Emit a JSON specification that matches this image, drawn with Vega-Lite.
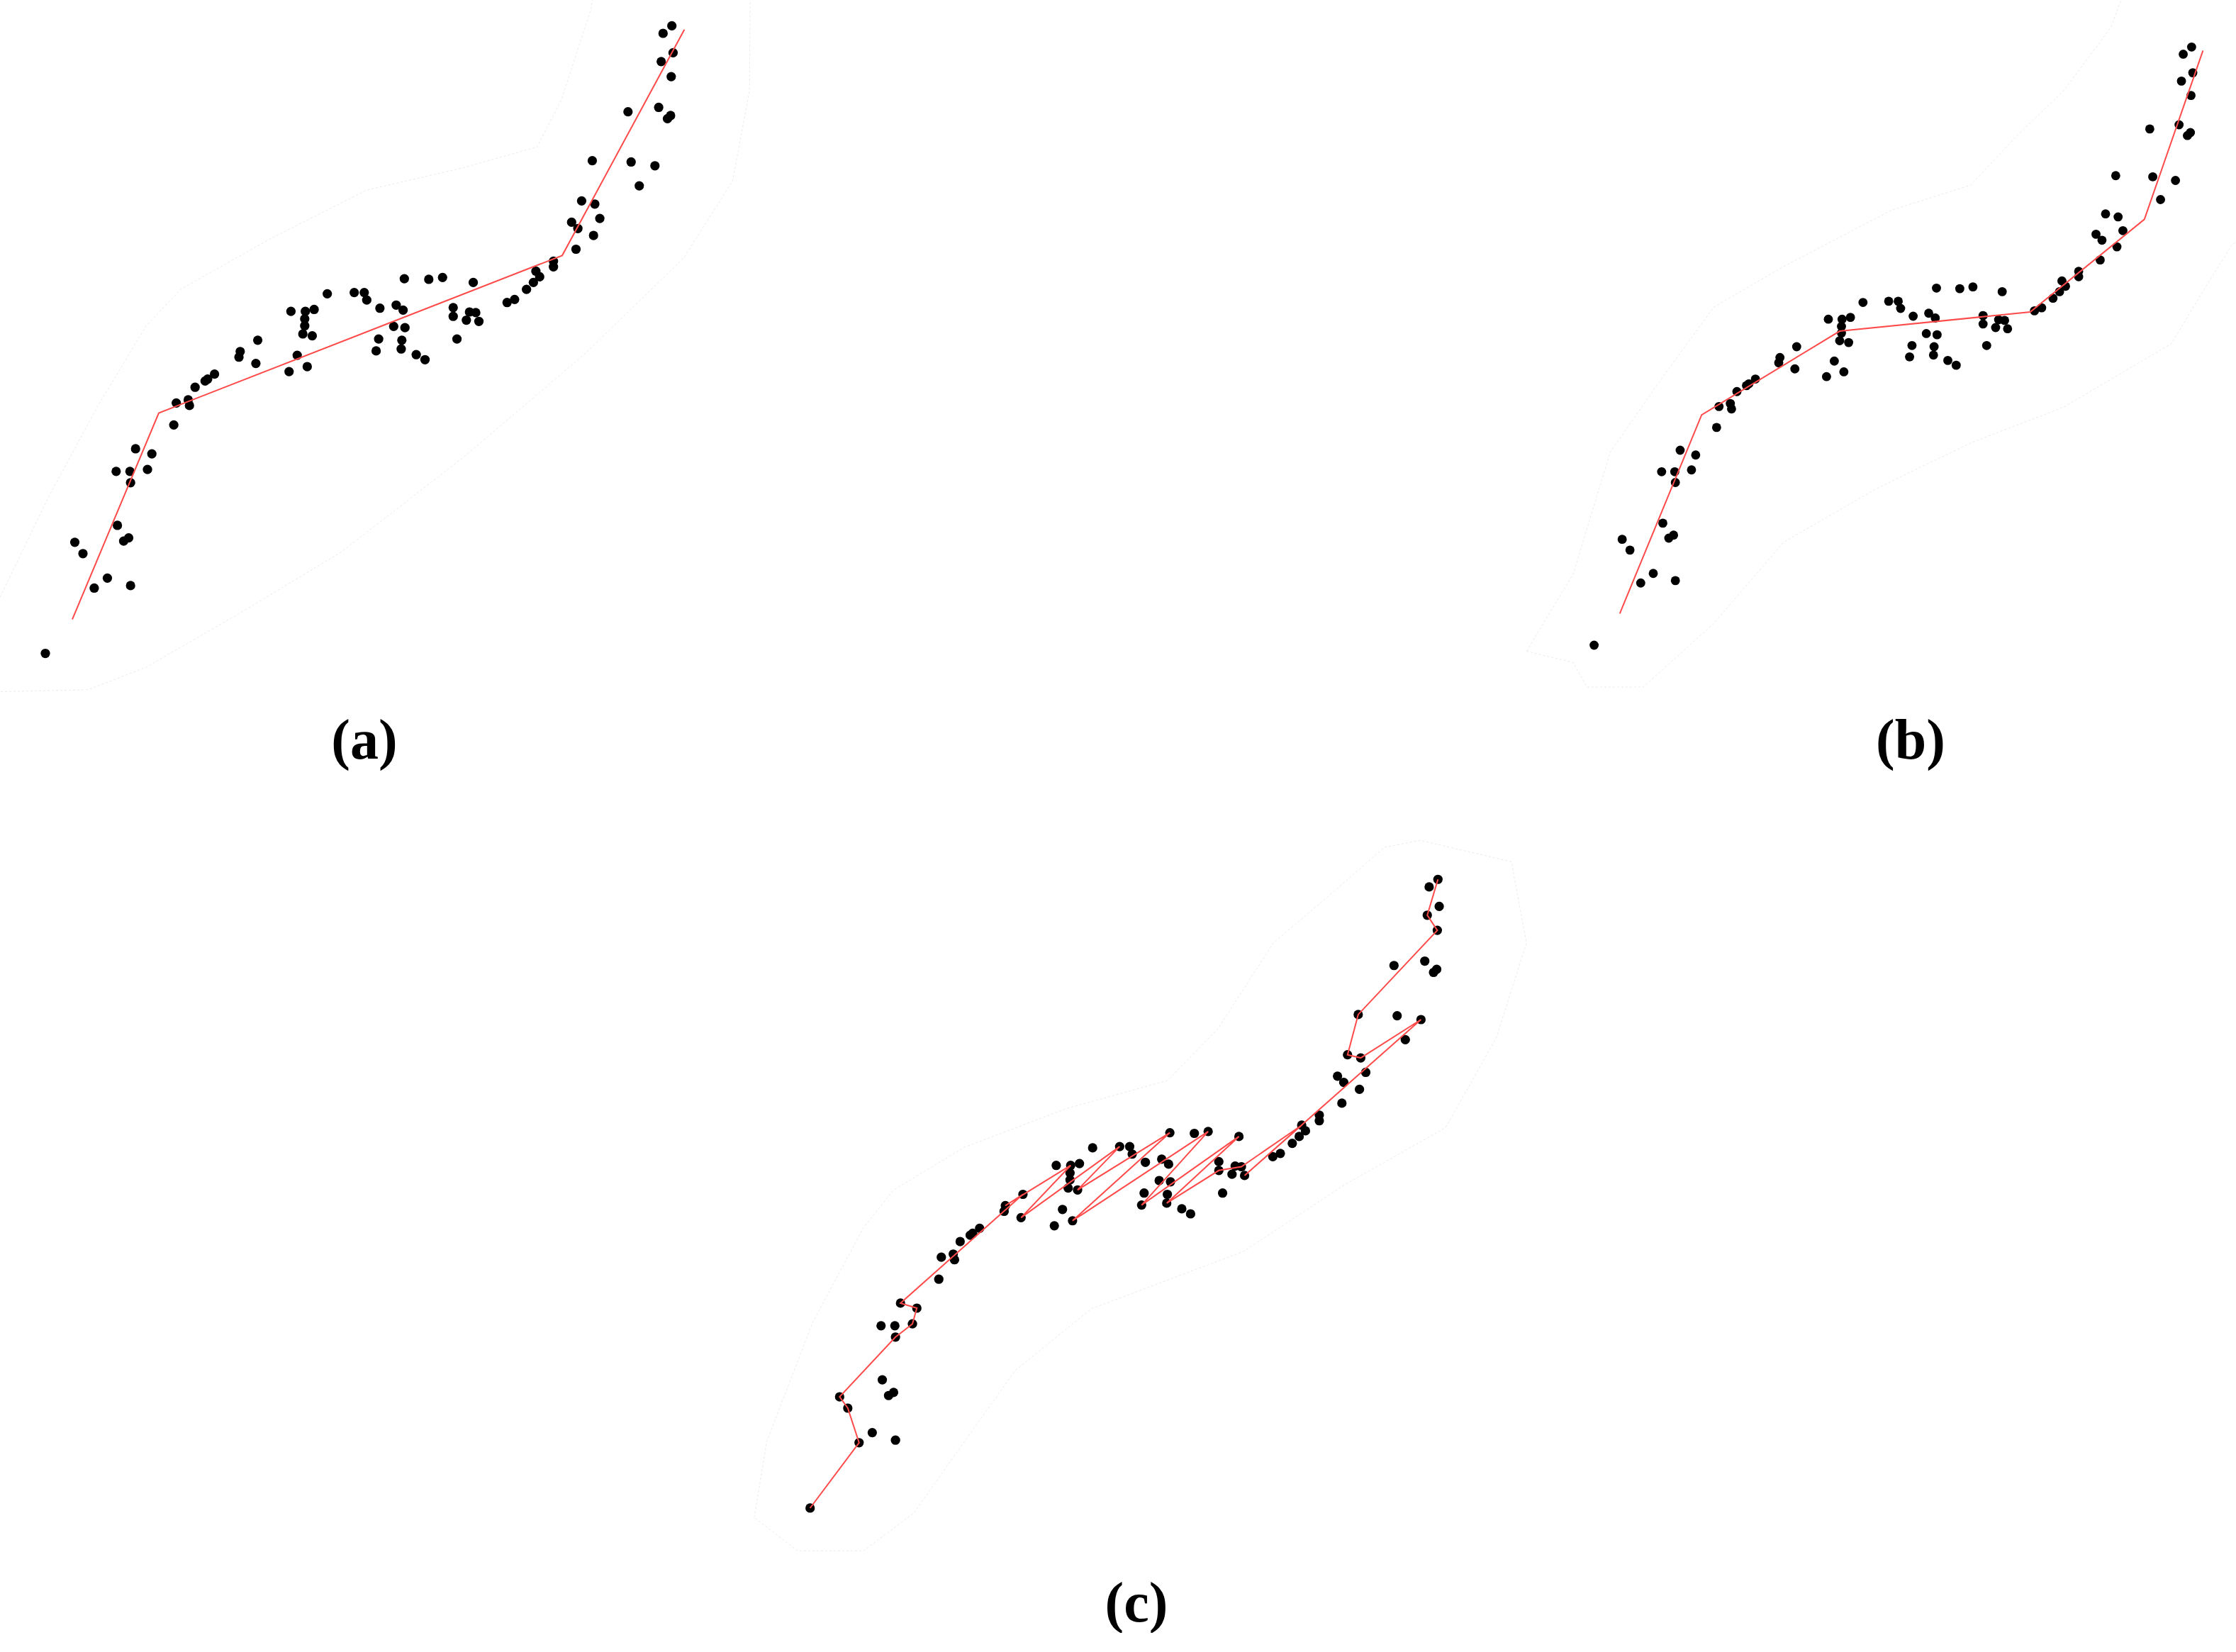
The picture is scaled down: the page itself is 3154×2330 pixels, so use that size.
{
  "$schema": "https://vega.github.io/schema/vega-lite/v6.json",
  "description": "Same point cloud in three panels with different fitted polylines: (a) 3 segments, (b) 5 segments, (c) a path through the points",
  "padding": 0,
  "background": "white",
  "config": {
    "view": {"stroke": null},
    "title": {
      "orient": "bottom",
      "font": "Liberation Serif",
      "fontSize": 80,
      "fontWeight": "bold",
      "color": "black",
      "offset": 22
    }
  },
  "datasets": {
    "pts": [
      {"u": 100.0, "v": 100.0, "c": 31}, {"u": 98.6, "v": 98.8}, {"u": 100.2, "v": 95.7},
      {"u": 98.3, "v": 94.3, "c": 30}, {"u": 99.9, "v": 91.9, "c": 29}, {"u": 93.0, "v": 86.3},
      {"u": 97.9, "v": 87.0}, {"u": 99.3, "v": 85.2}, {"u": 99.8, "v": 85.7},
      {"u": 87.3, "v": 78.5, "c": 28}, {"u": 93.5, "v": 78.3}, {"u": 97.3, "v": 77.7, "c": 25},
      {"u": 94.8, "v": 74.5}, {"u": 85.6, "v": 72.1, "c": 27}, {"u": 87.7, "v": 71.6, "c": 26},
      {"u": 88.5, "v": 69.3}, {"u": 84.0, "v": 68.7}, {"u": 85.0, "v": 67.7},
      {"u": 87.5, "v": 66.6}, {"u": 84.7, "v": 64.4}, {"u": 81.1, "v": 62.5},
      {"u": 81.1, "v": 61.6}, {"u": 78.3, "v": 60.9, "c": 23}, {"u": 78.9, "v": 60.0},
      {"u": 77.9, "v": 59.1}, {"u": 76.8, "v": 58.0}, {"u": 74.9, "v": 56.4},
      {"u": 73.7, "v": 55.9}, {"u": 57.3, "v": 59.7, "c": 15}, {"u": 61.2, "v": 59.6},
      {"u": 63.4, "v": 59.9, "c": 17}, {"u": 68.3, "v": 59.1, "c": 19}, {"u": 45.0, "v": 57.3},
      {"u": 49.3, "v": 57.5, "c": 13}, {"u": 50.9, "v": 57.5}, {"u": 51.3, "v": 56.3},
      {"u": 53.4, "v": 55.0}, {"u": 56.0, "v": 55.5}, {"u": 57.1, "v": 54.7},
      {"u": 55.6, "v": 52.1}, {"u": 57.4, "v": 51.9}, {"u": 53.2, "v": 50.1},
      {"u": 56.9, "v": 49.9}, {"u": 52.8, "v": 48.2, "c": 18}, {"u": 56.8, "v": 48.5, "c": 20},
      {"u": 59.2, "v": 47.6}, {"u": 60.6, "v": 46.8}, {"u": 65.1, "v": 55.1},
      {"u": 65.1, "v": 53.7, "c": 21}, {"u": 67.7, "v": 54.4}, {"u": 68.7, "v": 54.3, "c": 22},
      {"u": 67.2, "v": 53.1}, {"u": 69.2, "v": 52.9, "c": 24}, {"u": 65.7, "v": 50.1},
      {"u": 39.2, "v": 54.5}, {"u": 41.5, "v": 54.5, "c": 11}, {"u": 42.9, "v": 54.8},
      {"u": 41.4, "v": 53.3}, {"u": 41.4, "v": 52.2}, {"u": 41.1, "v": 50.9},
      {"u": 42.6, "v": 50.6, "c": 14}, {"u": 40.2, "v": 47.5}, {"u": 38.9, "v": 44.9},
      {"u": 41.8, "v": 45.7, "c": 16}, {"u": 33.9, "v": 49.9, "c": 9}, {"u": 31.1, "v": 48.1, "c": 10},
      {"u": 30.9, "v": 47.2}, {"u": 33.6, "v": 46.2, "c": 12}, {"u": 27.0, "v": 44.5},
      {"u": 25.9, "v": 43.7}, {"u": 25.5, "v": 43.4}, {"u": 23.9, "v": 42.4},
      {"u": 20.9, "v": 39.9}, {"u": 22.8, "v": 40.4}, {"u": 23.0, "v": 39.5},
      {"u": 20.5, "v": 36.4}, {"u": 14.4, "v": 32.6, "c": 8}, {"u": 17.0, "v": 31.8, "c": 7},
      {"u": 11.3, "v": 29.0}, {"u": 13.5, "v": 29.0}, {"u": 16.3, "v": 29.3, "c": 6},
      {"u": 13.6, "v": 27.2, "c": 5}, {"u": 11.5, "v": 20.4}, {"u": 13.3, "v": 18.4},
      {"u": 12.5, "v": 17.9}, {"u": 4.7, "v": 17.7, "c": 4}, {"u": 6.0, "v": 15.9, "c": 3},
      {"u": 9.9, "v": 12.0}, {"u": 7.8, "v": 10.4, "c": 2}, {"u": 13.6, "v": 10.8},
      {"u": 0.0, "v": 0.0, "c": 1}
    ],
    "fit": [
      {"panel": "a", "k": 1, "u": 4.3, "v": 5.4}, {"panel": "a", "k": 2, "u": 18.1, "v": 38.3},
      {"panel": "a", "k": 3, "u": 82.5, "v": 63.4}, {"panel": "a", "k": 4, "u": 102.0, "v": 99.4},
      {"panel": "b", "k": 1, "u": 4.3, "v": 5.3}, {"panel": "b", "k": 2, "u": 18.0, "v": 38.5},
      {"panel": "b", "k": 3, "u": 41.1, "v": 52.5}, {"panel": "b", "k": 4, "u": 73.0, "v": 55.7},
      {"panel": "b", "k": 5, "u": 92.1, "v": 71.2}, {"panel": "b", "k": 6, "u": 101.9, "v": 99.4}
    ],
    "hull": [
      {"panel": "a", "k": 1, "u": -7.2, "v": 9.0}, {"panel": "a", "k": 2, "u": 0.5, "v": 24.9},
      {"panel": "a", "k": 3, "u": 8.3, "v": 39.3}, {"panel": "a", "k": 4, "u": 16.1, "v": 52.2},
      {"panel": "a", "k": 5, "u": 21.6, "v": 58.0}, {"panel": "a", "k": 6, "u": 35.6, "v": 65.9},
      {"panel": "a", "k": 7, "u": 51.2, "v": 73.8}, {"panel": "a", "k": 8, "u": 66.8, "v": 77.4},
      {"panel": "a", "k": 9, "u": 78.5, "v": 80.7}, {"panel": "a", "k": 10, "u": 82.4, "v": 88.3},
      {"panel": "a", "k": 11, "u": 87.1, "v": 102.7}, {"panel": "a", "k": 12, "u": 87.6, "v": 106.0},
      {"panel": "a", "k": 13, "u": 112.5, "v": 106.0}, {"panel": "a", "k": 14, "u": 112.4, "v": 89.7},
      {"panel": "a", "k": 15, "u": 109.7, "v": 75.3}, {"panel": "a", "k": 16, "u": 101.9, "v": 63.0},
      {"panel": "a", "k": 17, "u": 86.3, "v": 47.9}, {"panel": "a", "k": 18, "u": 66.8, "v": 31.3},
      {"panel": "a", "k": 19, "u": 47.3, "v": 16.2}, {"panel": "a", "k": 20, "u": 31.7, "v": 6.8},
      {"panel": "a", "k": 21, "u": 16.1, "v": -2.2}, {"panel": "a", "k": 22, "u": 6.8, "v": -5.8},
      {"panel": "a", "k": 23, "u": -7.2, "v": -6.1}, {"panel": "a", "k": 24, "u": -9.0, "v": -6.3},
      {"panel": "a", "k": 25, "u": -9.0, "v": 8.5}, {"panel": "a", "k": 26, "u": -7.2, "v": 9.0},
      {"panel": "b", "k": 1, "u": -11.3, "v": -1.0}, {"panel": "b", "k": 2, "u": -3.5, "v": 11.9},
      {"panel": "b", "k": 3, "u": 2.7, "v": 32.3}, {"panel": "b", "k": 4, "u": 10.6, "v": 43.6},
      {"panel": "b", "k": 5, "u": 20.0, "v": 56.5}, {"panel": "b", "k": 6, "u": 31.7, "v": 63.3},
      {"panel": "b", "k": 7, "u": 49.7, "v": 72.7}, {"panel": "b", "k": 8, "u": 63.0, "v": 76.9},
      {"panel": "b", "k": 9, "u": 70.8, "v": 85.2}, {"panel": "b", "k": 10, "u": 78.6, "v": 92.7},
      {"panel": "b", "k": 11, "u": 86.5, "v": 103.3}, {"panel": "b", "k": 12, "u": 88.6, "v": 109.0},
      {"panel": "b", "k": 13, "u": 108.5, "v": 109.0}, {"panel": "b", "k": 14, "u": 108.5, "v": 68.0},
      {"panel": "b", "k": 15, "u": 106.8, "v": 67.0}, {"panel": "b", "k": 16, "u": 102.1, "v": 59.5},
      {"panel": "b", "k": 17, "u": 96.6, "v": 50.4}, {"panel": "b", "k": 18, "u": 78.6, "v": 39.8},
      {"panel": "b", "k": 19, "u": 63.0, "v": 33.8}, {"panel": "b", "k": 20, "u": 47.3, "v": 26.2},
      {"panel": "b", "k": 21, "u": 31.7, "v": 17.2}, {"panel": "b", "k": 22, "u": 20.0, "v": 3.6},
      {"panel": "b", "k": 23, "u": 8.2, "v": -7.0}, {"panel": "b", "k": 24, "u": -1.2, "v": -7.0},
      {"panel": "b", "k": 25, "u": -3.5, "v": -2.9}, {"panel": "b", "k": 26, "u": -11.3, "v": -1.0},
      {"panel": "c", "k": 1, "u": -8.9, "v": -1.5}, {"panel": "c", "k": 2, "u": -6.9, "v": 10.6},
      {"panel": "c", "k": 3, "u": 0.4, "v": 29.5}, {"panel": "c", "k": 4, "u": 8.5, "v": 44.6},
      {"panel": "c", "k": 5, "u": 13.3, "v": 50.6}, {"panel": "c", "k": 6, "u": 24.6, "v": 57.4},
      {"panel": "c", "k": 7, "u": 40.7, "v": 63.5}, {"panel": "c", "k": 8, "u": 56.9, "v": 68.0},
      {"panel": "c", "k": 9, "u": 65.0, "v": 76.3}, {"panel": "c", "k": 10, "u": 73.8, "v": 89.9},
      {"panel": "c", "k": 11, "u": 81.0, "v": 96.0}, {"panel": "c", "k": 12, "u": 91.5, "v": 105.1},
      {"panel": "c", "k": 13, "u": 97.2, "v": 106.2}, {"panel": "c", "k": 14, "u": 111.7, "v": 102.8},
      {"panel": "c", "k": 15, "u": 114.1, "v": 89.9}, {"panel": "c", "k": 16, "u": 109.3, "v": 74.8},
      {"panel": "c", "k": 17, "u": 101.2, "v": 60.5}, {"panel": "c", "k": 18, "u": 85.1, "v": 51.4},
      {"panel": "c", "k": 19, "u": 69.0, "v": 40.8}, {"panel": "c", "k": 20, "u": 44.8, "v": 31.7},
      {"panel": "c", "k": 21, "u": 32.7, "v": 21.9}, {"panel": "c", "k": 22, "u": 24.6, "v": 10.6},
      {"panel": "c", "k": 23, "u": 16.5, "v": -0.8}, {"panel": "c", "k": 24, "u": 8.5, "v": -6.8},
      {"panel": "c", "k": 25, "u": -2.0, "v": -6.8}, {"panel": "c", "k": 26, "u": -8.9, "v": -1.5}
    ]
  },
  "spacing": 96,
  "vconcat": [
    {
      "spacing": 1070,
      "hconcat": [
        {
          "width": 1060,
          "height": 985,
          "title": {"text": "(a)", "dx": -16},
          "encoding": {
            "x": {"field": "u", "type": "quantitative", "axis": null,
                  "scale": {"domain": [-7.24, 112.71], "nice": false, "zero": false}},
            "y": {"field": "v", "type": "quantitative", "axis": null,
                  "scale": {"domain": [-7.17, 104.11], "nice": false, "zero": false}}
          },
          "layer": [
            {
              "data": {"name": "hull"},
              "transform": [{"filter": "datum.panel === 'a'"}],
              "mark": {"type": "line", "color": "#ebebeb", "strokeWidth": 1, "strokeDash": [3, 3], "clip": true},
              "encoding": {"order": {"field": "k"}}
            },
            {
              "data": {"name": "pts"},
              "mark": {"type": "circle", "color": "black", "opacity": 1, "size": 175}
            },
            {
              "data": {"name": "fit"},
              "transform": [{"filter": "datum.panel === 'a'"}],
              "mark": {"type": "line", "color": "#ff4a4a", "strokeWidth": 2},
              "encoding": {"order": {"field": "k"}}
            }
          ]
        },
        {
          "width": 1024,
          "height": 985,
          "title": {"text": "(b)", "dx": 53},
          "encoding": {
            "x": {"field": "u", "type": "quantitative", "axis": null,
                  "scale": {"domain": [-14.07, 107.43], "nice": false, "zero": false}},
            "y": {"field": "v", "type": "quantitative", "axis": null,
                  "scale": {"domain": [-8.89, 107.86], "nice": false, "zero": false}}
          },
          "layer": [
            {
              "data": {"name": "hull"},
              "transform": [{"filter": "datum.panel === 'b'"}],
              "mark": {"type": "line", "color": "#ebebeb", "strokeWidth": 1, "strokeDash": [3, 3], "clip": true},
              "encoding": {"order": {"field": "k"}}
            },
            {
              "data": {"name": "pts"},
              "mark": {"type": "circle", "color": "black", "opacity": 1, "size": 165}
            },
            {
              "data": {"name": "fit"},
              "transform": [{"filter": "datum.panel === 'b'"}],
              "mark": {"type": "line", "color": "#ff4a4a", "strokeWidth": 2},
              "encoding": {"order": {"field": "k"}}
            }
          ]
        }
      ]
    },
    {
      "width": 3154,
      "height": 1020,
      "title": {"text": "(c)", "dx": 26},
      "encoding": {
        "x": {"field": "u", "type": "quantitative", "axis": null,
              "scale": {"domain": [-129.03, 227.11], "nice": false, "zero": false}},
        "y": {"field": "v", "type": "quantitative", "axis": null,
              "scale": {"domain": [-8.46, 106.57], "nice": false, "zero": false}}
      },
      "layer": [
        {
          "data": {"name": "hull"},
          "transform": [{"filter": "datum.panel === 'c'"}],
          "mark": {"type": "line", "color": "#ebebeb", "strokeWidth": 1, "strokeDash": [3, 3], "clip": true},
          "encoding": {"order": {"field": "k"}}
        },
        {
          "data": {"name": "pts"},
          "mark": {"type": "circle", "color": "black", "opacity": 1, "size": 175}
        },
        {
          "data": {"name": "pts"},
          "transform": [{"filter": "isValid(datum.c)"}],
          "mark": {"type": "line", "color": "#ff4a4a", "strokeWidth": 2},
          "encoding": {"order": {"field": "c"}}
        }
      ]
    }
  ]
}
